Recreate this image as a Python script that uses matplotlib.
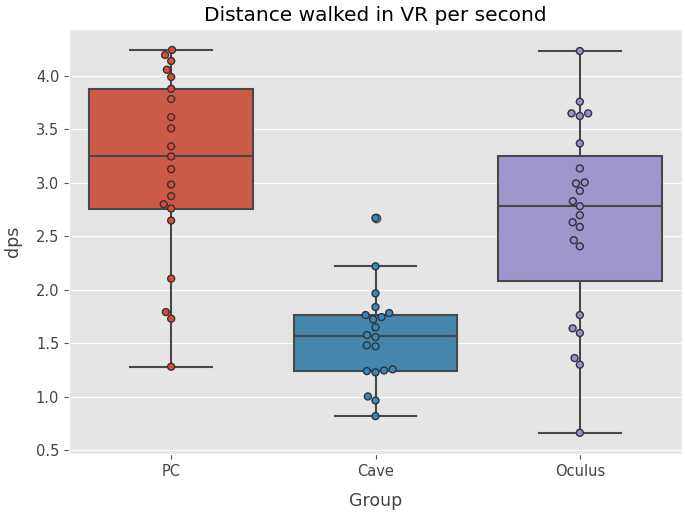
import pandas as pd
import matplotlib
matplotlib.use('Agg')
import matplotlib.pyplot as plt
import seaborn as sns

plt.style.use('ggplot')

groups = ['PC', 'Cave', 'Oculus']

pc = [4.241, 4.194, 4.138, 4.056, 3.988, 3.878, 3.782, 3.613, 3.508, 3.339,
      3.245, 3.126, 2.983, 2.874, 2.799, 2.758, 2.646, 2.103, 1.790, 1.728,
      1.279]
cave = [2.670, 2.218, 1.965, 1.837, 1.781, 1.762, 1.743, 1.722, 1.647, 1.575,
        1.556, 1.479, 1.469, 1.254, 1.244, 1.238, 1.226, 1.001, 0.963, 0.817]
oculus = [4.231, 3.757, 3.648, 3.648, 3.623, 3.367, 3.133, 3.002, 2.993,
          2.923, 2.827, 2.780, 2.696, 2.630, 2.586, 2.462, 2.405, 1.762,
          1.638, 1.594, 1.360, 1.298, 0.661]

colors = ['#E24A33', '#348ABD', '#988ED5']

data = pd.DataFrame({
    'Group': ['PC'] * len(pc) + ['Cave'] * len(cave) + ['Oculus'] * len(oculus),
    'dps': pc + cave + oculus,
})

fig = plt.figure(figsize=(6.85, 5.15), dpi=100)
ax = fig.add_axes([69 / 685, 1 - 454.3 / 515, 613 / 685, 425 / 515])

sns.boxplot(data=data, x='Group', y='dps', order=groups, hue='Group',
            hue_order=groups, palette=colors, saturation=0.75, width=0.8,
            linewidth=1.5, legend=False, ax=ax)
sns.swarmplot(data=data, x='Group', y='dps', order=groups, hue='Group',
              hue_order=groups, palette=colors, size=5, linewidth=1,
              edgecolor='#333333', legend=False, ax=ax)

ax.set_ylim(0.46, 4.434)
ax.set_title('Distance walked in VR per second', fontsize=14.5, color='black')
ax.set_xlabel('Group', fontsize=12.5, color='#444444', labelpad=9)
ax.set_ylabel('dps', fontsize=12.5, color='#444444', labelpad=10)
ax.tick_params(labelsize=10.5, labelcolor='#444444')
ax.xaxis.grid(False)

plt.savefig('out.png', dpi=100)
